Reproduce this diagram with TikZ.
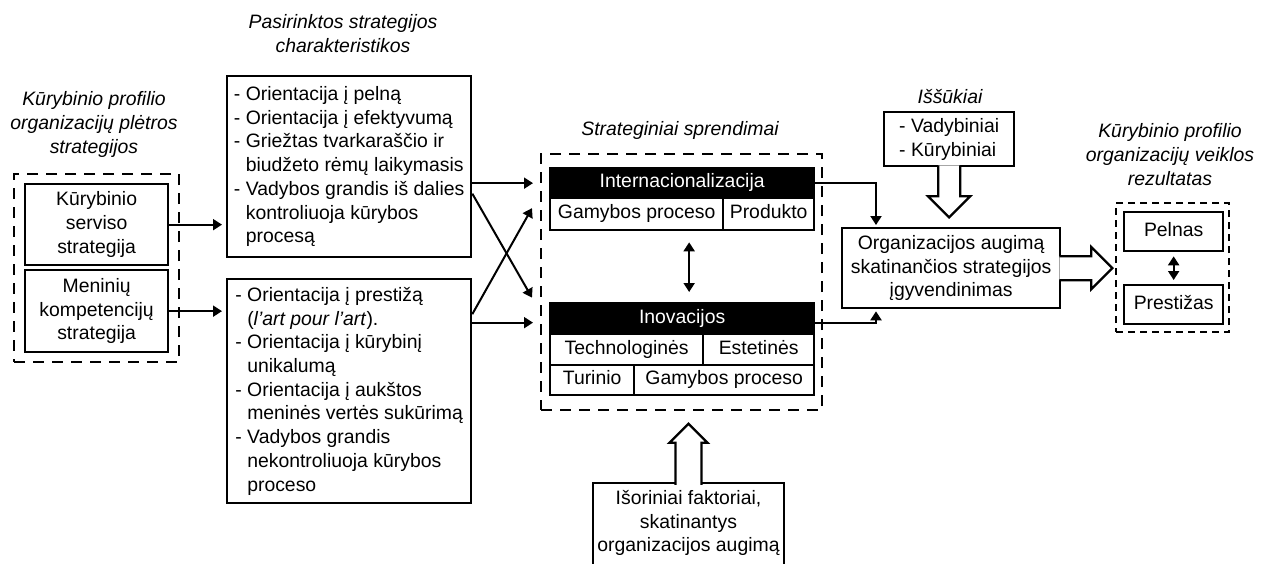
\documentclass[tikz,border=0pt]{standalone}
\usepackage{fontspec}
\setmainfont{Liberation Sans}
\usepackage{tikz}
\usetikzlibrary{calc,positioning,arrows.meta}

\newcommand{\contind}{\hphantom{-~}}

\tikzset{
  box/.style={draw, line width=2.3pt, inner sep=0pt, align=center},
  cell/.style={box, text height=14pt, text depth=4.5pt},
  grp/.style={draw, line width=2.3pt, dash pattern=on 11pt off 8pt, inner sep=0pt},
  hdr/.style={cell, fill=black, text=white},
  ttl/.style={align=center, font=\fontsize{19.4}{24}\selectfont\itshape},
  arr/.style={line width=2pt, -{Triangle[length=9pt,width=11pt]}},
  dblarr/.style={line width=2pt, {Triangle[length=9pt,width=11pt]}-{Triangle[length=9pt,width=11pt]}},
  blk/.style={draw, line width=2.3pt, fill=white, line join=miter},
}

\begin{document}
\begin{tikzpicture}[x=1pt,y=1pt,yscale=-1,xscale=1,font=\fontsize{19.4}{23.7}\selectfont]
  \useasboundingbox (0,0) rectangle (1272,563);

  % Text Node
  \node[ttl] (ttlstrat) at (94,124) {Kūrybinio profilio\\organizacijų plėtros\\strategijos};
  % Text Node
  \node[ttl] (ttlchar) at (343,34) {Pasirinktos strategijos\\charakteristikos};
  % Text Node
  \node[ttl] (ttlspr) at (680,130) {Strateginiai sprendimai};
  % Text Node
  \node[ttl] (ttliss) at (950,97) {Iššūkiai};
  % Text Node
  \node[ttl] (ttlres) at (1170,155) {Kūrybinio profilio\\organizacijų veiklos\\rezultatas};

  %Shape: left group
  \node[grp, anchor=north west, minimum width=165, minimum height=188] (stratgrp) at (13,173) {};
  \node[box, anchor=north west, minimum width=143, minimum height=81] (serv) at (24,183) {Kūrybinio\\serviso\\strategija};
  \node[box, anchor=north west, minimum width=143, minimum height=82] (men) at (24,269) {Meninių\\kompetencijų\\strategija};

  %Shape: characteristics
  \node[box, anchor=north west, minimum width=244, minimum height=181, align=left] (charA) at (226,75)
    {- Orientacija į pelną\\- Orientacija į efektyvumą\\- Griežtas tvarkaraščio ir\\\contind biudžeto rėmų laikymasis\\- Vadybos grandis iš dalies\\\contind kontroliuoja kūrybos\\\contind procesą};
  \node[box, anchor=north west, minimum width=244, minimum height=224, align=left] (charB) at (226,278)
    {- Orientacija į prestižą\\\contind (\textit{l’art pour l’art}).\\- Orientacija į kūrybinį\\\contind unikalumą\\- Orientacija į aukštos\\\contind meninės vertės sukūrimą\\- Vadybos grandis\\\contind nekontroliuoja kūrybos\\\contind proceso};

  %Shape: strategic decisions
  \node[grp, anchor=north west, minimum width=281, minimum height=256] (sprgrp) at (540,153) {};
  \node[hdr, anchor=north west, minimum width=264, minimum height=30] (intl) at (549,167) {Internacionalizacija};
  \node[cell, anchor=north west, minimum width=173, minimum height=32] (gam1) at (549,197) {Gamybos proceso};
  \node[cell, anchor=north west, minimum width=91, minimum height=32] (prod) at (722,197) {Produkto};
  \node[hdr, anchor=north west, minimum width=264, minimum height=31] (inov) at (549,302) {Inovacijos};
  \node[cell, anchor=north west, minimum width=153, minimum height=31] (tech) at (549,333) {Technologinės};
  \node[cell, anchor=north west, minimum width=111, minimum height=31] (este) at (702,333) {Estetinės};
  \node[cell, anchor=north west, minimum width=84, minimum height=30] (tur) at (549,364) {Turinio};
  \node[cell, anchor=north west, minimum width=180, minimum height=30] (gam2) at (633,364) {Gamybos proceso};

  %Shape: implementation, challenges, results
  \node[box, anchor=north west, minimum width=218, minimum height=80] (org) at (841,227) {Organizacijos augimą\\skatinančios strategijos\\įgyvendinimas};
  \node[box, anchor=north west, minimum width=130, minimum height=54, align=left] (iss) at (883,111) {- Vadybiniai\\- Kūrybiniai};
  \node[grp, dash pattern=on 7pt off 5pt, anchor=north west, minimum width=113, minimum height=129] (resgrp) at (1115,202) {};
  \node[cell, anchor=north west, minimum width=99, minimum height=39] (pelnas) at (1123,211) {Pelnas};
  \node[cell, anchor=north west, minimum width=99, minimum height=39] (prest) at (1123,284) {Prestižas};

  %Shape: external factors (cut at bottom)
  \node[inner sep=0pt, align=center, minimum width=191, minimum height=80] (ext) at (688.5,523) {Išoriniai faktoriai,\\skatinantys\\organizacijos augimą};
  \draw[line width=2.3pt] ($(ext.south west)+(0,10)$) |- (ext.north east) -- ($(ext.south east)+(0,10)$);

  % Arrows
  \draw[arr, shorten >=4pt] (serv.east) -- (serv.east -| charA.west);
  \draw[arr, shorten >=4pt] (men.east) -- (men.east -| charA.west);
  \draw[arr, shorten >=16pt] (charA.east |- intl.west) -- (intl.west);
  \draw[arr] ($(charA.east)+(0,27)$) -- ($(inov.west)+(-17,-21)$);
  \draw[arr] ($(charB.east)+(0,-77)$) -- ($(intl.west)+(-17,25)$);
  \draw[arr] ($(charB.east |- inov.west)+(0,4)$) -- ($(inov.west)+(-16,4)$);
  \draw[dblarr] ($(gam1.south -| intl.south)+(7,11)$) -- ($(inov.north)+(7,-10)$);
  \draw[arr, shorten >=2pt] (intl.east) -| ($(org.north west)+(35,0)$);
  \draw[arr, shorten >=2pt] ($(inov.east)+(0,4)$) -| ($(org.south west)+(35,0)$);
  \draw[dblarr, shorten >=4pt, shorten <=4pt] (pelnas.south) -- (prest.north);

  %Shape: block arrows
  \draw[blk] ($(iss.south)+(-11,-2)$) -- ($(iss.south)+(-11,29)$) -- ($(iss.south)+(-21,29)$) -- ($(iss.south)+(0,50)$) -- ($(iss.south)+(21,29)$) -- ($(iss.south)+(11,29)$) -- ($(iss.south)+(11,-2)$);
  \draw[blk] ($(org.east)+(-2,-12)$) -- ($(org.east)+(30,-12)$) -- ($(org.east)+(30,-21)$) -- ($(org.east)+(51,0)$) -- ($(org.east)+(30,21)$) -- ($(org.east)+(30,12)$) -- ($(org.east)+(-2,12)$);
  \draw[blk] ($(ext.north)+(-13,2)$) -- ($(ext.north)+(-13,-40)$) -- ($(ext.north)+(-19,-40)$) -- ($(ext.north)+(0,-59)$) -- ($(ext.north)+(19,-40)$) -- ($(ext.north)+(13,-40)$) -- ($(ext.north)+(13,2)$);
\end{tikzpicture}
\end{document}
